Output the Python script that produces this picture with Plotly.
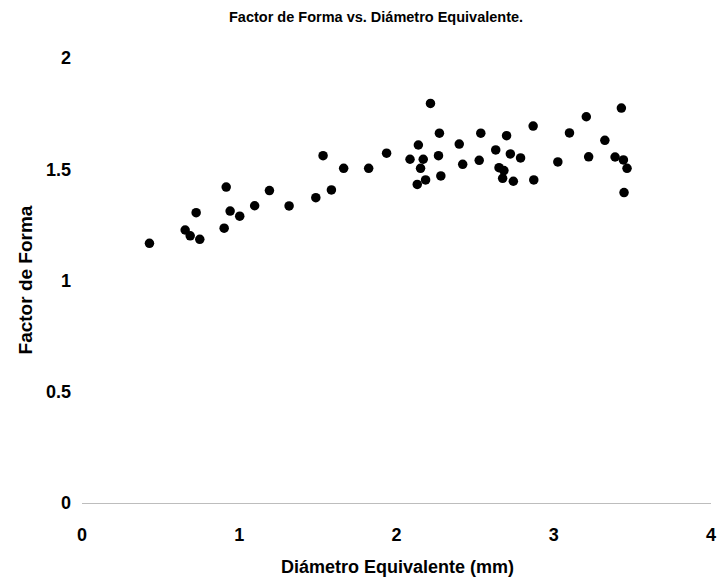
import plotly.graph_objects as go

diametro = [0.429, 0.656, 0.688, 0.749, 0.726, 0.904, 0.917, 0.942, 1.003, 1.098,
            1.192, 1.317, 1.487, 1.533, 1.586, 1.664, 1.823, 1.937, 2.216, 2.139,
            2.086, 2.170, 2.153, 2.185, 2.132, 2.273, 2.267, 2.282, 2.399, 2.421,
            2.536, 2.526, 2.700, 2.631, 2.724, 2.789, 2.652, 2.683, 2.675, 2.743,
            2.869, 2.873, 3.026, 3.100, 3.207, 3.222, 3.325, 3.430, 3.390, 3.443,
            3.466, 3.447]
factor_forma = [1.167, 1.227, 1.201, 1.185, 1.305, 1.235, 1.420, 1.312, 1.289, 1.336,
                1.404, 1.335, 1.372, 1.561, 1.407, 1.504, 1.504, 1.572, 1.796, 1.609,
                1.545, 1.545, 1.504, 1.452, 1.432, 1.662, 1.561, 1.470, 1.613, 1.522,
                1.662, 1.540, 1.651, 1.587, 1.569, 1.551, 1.507, 1.494, 1.459, 1.446,
                1.694, 1.452, 1.533, 1.663, 1.736, 1.556, 1.630, 1.775, 1.555, 1.542,
                1.504, 1.395]

x_ticks = [0, 1, 2, 3, 4]
y_ticks = [0, 0.5, 1, 1.5, 2]
y_tick_labels = ["0", "0.5", "1", "1.5", "2"]

FONT = "Liberation Sans Narrow, Arial Narrow, Liberation Sans, Arial, sans-serif"

# target layout in page pixels (page has an 8px body margin around the figure)
OFF = 8
PAGE_W, PAGE_H = 728, 583
W, H = PAGE_W - OFF, PAGE_H - OFF
L, R, T, B = 82 - OFF, 12, 58 - OFF, 80
plot_w = W - L - R
plot_h = H - T - B


def px_to_paper(px, py):
    # px, py are page pixel coordinates
    fx, fy = px - OFF, py - OFF
    return (fx - L) / plot_w, ((H - fy) - B) / plot_h


fig = go.Figure()
fig.add_trace(go.Scatter(
    x=diametro, y=factor_forma, mode="markers",
    marker=dict(color="black", size=9.5),
    showlegend=False,
))

tx, ty = px_to_paper(378, 17)
xx, xy = px_to_paper(400, 567)
yx, yy = px_to_paper(25, 280)

fig.update_layout(
    width=W, height=H,
    margin=dict(l=L, r=R, t=T, b=B),
    paper_bgcolor="white", plot_bgcolor="white",
    font=dict(family=FONT, color="black"),
    xaxis=dict(
        range=[0, 4], tickvals=x_ticks, showgrid=False, zeroline=False,
        showline=True, linecolor="#bdbdbd", linewidth=1,
        ticks="", tickfont=dict(size=18, family=FONT, weight="bold"),
        ticklabelstandoff=15,
    ),
    yaxis=dict(
        range=[0, 2], tickvals=y_ticks, ticktext=y_tick_labels, showgrid=False,
        zeroline=False, showline=False, ticks="",
        tickfont=dict(size=18, family=FONT, weight="bold"),
        ticklabelstandoff=10,
    ),
    annotations=[
        dict(text="<b>Factor de Forma vs. Diámetro Equivalente.</b>",
             x=tx, y=ty, xref="paper", yref="paper", showarrow=False,
             xanchor="center", yanchor="middle",
             font=dict(size=14.5, family=FONT)),
        dict(text="<b>Diámetro Equivalente (mm)</b>",
             x=xx, y=xy, xref="paper", yref="paper", showarrow=False,
             xanchor="center", yanchor="middle",
             font=dict(size=18, family=FONT)),
        dict(text="<b>Factor de Forma</b>", textangle=-90,
             x=yx, y=yy, xref="paper", yref="paper", showarrow=False,
             xanchor="center", yanchor="middle",
             font=dict(size=19, family=FONT)),
    ],
)

fig.write_html("out.html")
